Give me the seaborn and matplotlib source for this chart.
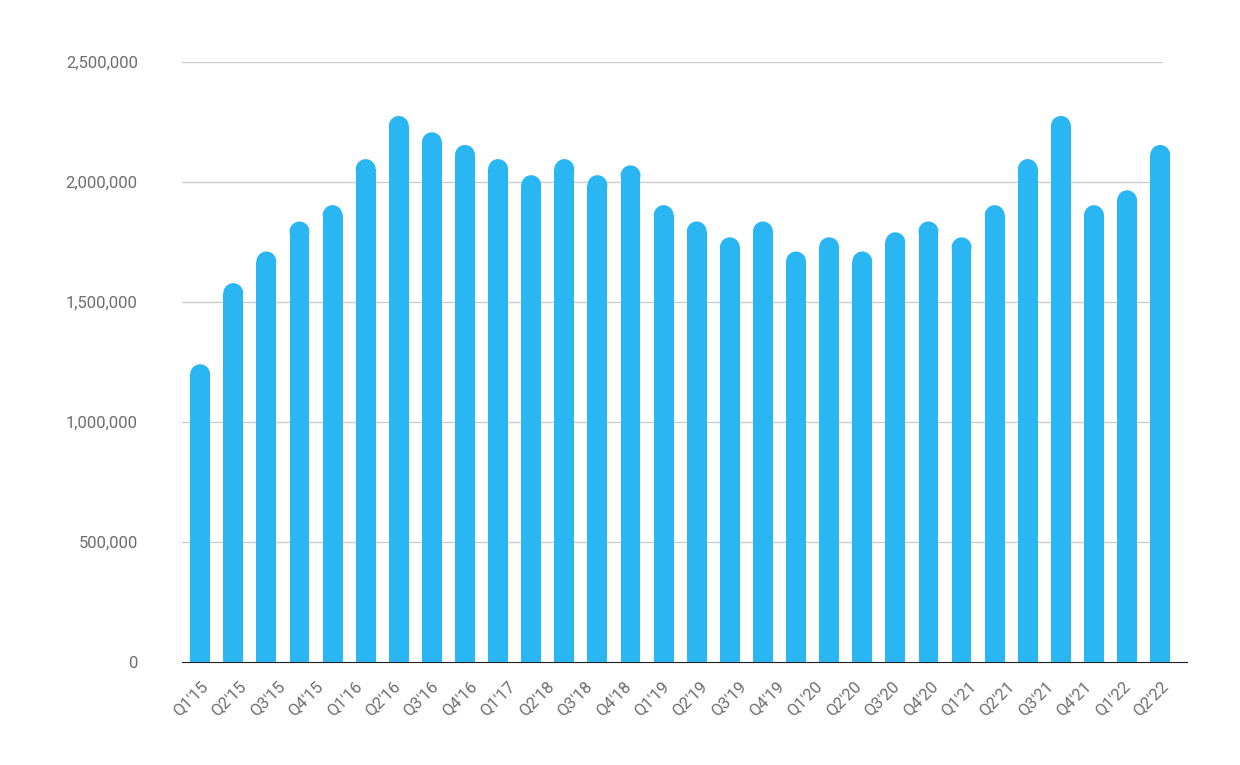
import numpy as np
import pandas as pd
import matplotlib
matplotlib.use('Agg')
import matplotlib.pyplot as plt
from matplotlib.patches import Ellipse
import seaborn as sns

quarters = [f"Q{q}'{y}" for y in range(15, 23) for q in range(1, 5)][:30]
values = [1240000, 1578000, 1710000, 1835000, 1903000, 2095000, 2275000, 2207000,
          2154000, 2095000, 2028000, 2095000, 2028000, 2069000, 1903000, 1835000,
          1769000, 1835000, 1710000, 1769000, 1710000, 1790000, 1835000, 1769000,
          1903000, 2095000, 2275000, 1903000, 1965000, 2154000]
tick_labels = ["Q1'15", "Q2'15", "Q3'15", "Q4'15", "Q1'16", "Q2'16", "Q3'16", "Q4'16",
               "Q1'17", "Q2'18", "Q3'18", "Q4'18", "Q1'19", "Q2'19", "Q3'19", "Q4'19",
               "Q1'20", "Q2'20", "Q3'20", "Q4'20", "Q1'21", "Q2'21", "Q3'21", "Q4'21",
               "Q1'22", "Q2'22"]

df = pd.DataFrame({'quarter': quarters, 'value': values})
color = '#29B6F2'
bw = 0.6
cap = 42000  # half-height of the rounded top, in data units

sns.set_style('white')
plt.rcParams['font.family'] = ['Roboto', 'DejaVu Sans']

fig = plt.figure(figsize=(12.4, 7.65), dpi=100)
ax = fig.add_axes([0.147, 0.135, 0.81, 0.784])

sns.barplot(data=df, x='quarter', y='value', color=color, width=bw,
            saturation=1, ax=ax, zorder=3)
for p in ax.patches:
    h = p.get_height()
    p.set_height(h - cap)
    p.set_edgecolor('none')
    ax.add_patch(Ellipse((p.get_x() + bw / 2, h - cap), bw, 2 * cap,
                         color=color, zorder=3, lw=0))

ax.set_xlim(-0.54, 29.8)
ax.set_ylim(0, 2500000)
yt = np.arange(0, 2500001, 500000)
ax.set_yticks(yt)
ax.set_yticklabels([f'{v:,.0f}' for v in yt])
ax.hlines(yt[1:], -0.6, 29.05, color='#cccccc', lw=1, zorder=1)

ax.set_xticks(np.linspace(0, 29, len(tick_labels)))
ax.set_xticklabels(tick_labels, rotation=45, ha='right', rotation_mode='anchor')

ax.tick_params(axis='both', length=0, labelsize=12, colors='#6e6e6e')
ax.tick_params(axis='y', pad=32)
ax.tick_params(axis='x', pad=12)
for s in ['top', 'right', 'left']:
    ax.spines[s].set_visible(False)
ax.spines['bottom'].set_color('#222222')
ax.set_xlabel('')
ax.set_ylabel('')

plt.savefig('out.png', dpi=100)
